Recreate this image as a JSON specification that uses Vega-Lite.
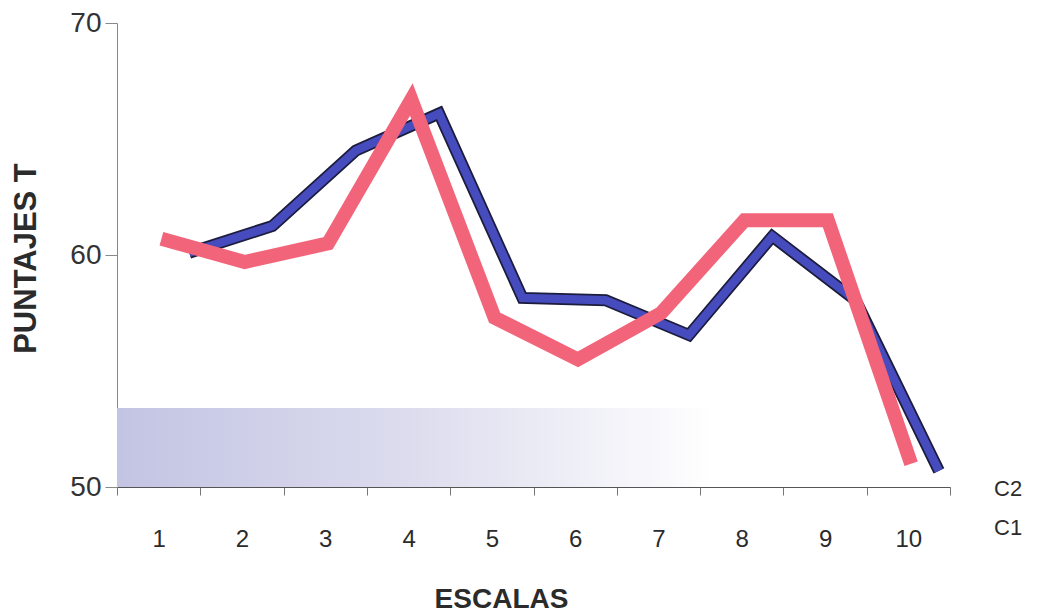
{
  "$schema": "https://vega.github.io/schema/vega-lite/v6.json",
  "autosize": {"type": "none"},
  "padding": {"left": 117, "top": 23, "right": 88, "bottom": 126},
  "width": 833,
  "height": 464,
  "background": "#ffffff",
  "config": {
    "view": {"stroke": null},
    "font": "Liberation Sans"
  },
  "datasets": {
    "puntajes": [
      {"escala": 1, "serie": "C1", "puntaje": 60.7},
      {"escala": 2, "serie": "C1", "puntaje": 59.7},
      {"escala": 3, "serie": "C1", "puntaje": 60.5},
      {"escala": 4, "serie": "C1", "puntaje": 66.7},
      {"escala": 5, "serie": "C1", "puntaje": 57.3},
      {"escala": 6, "serie": "C1", "puntaje": 55.5},
      {"escala": 7, "serie": "C1", "puntaje": 57.5},
      {"escala": 8, "serie": "C1", "puntaje": 61.5},
      {"escala": 9, "serie": "C1", "puntaje": 61.5},
      {"escala": 10, "serie": "C1", "puntaje": 51.0},
      {"escala": 1, "serie": "C2", "puntaje": 60.1},
      {"escala": 2, "serie": "C2", "puntaje": 61.25},
      {"escala": 3, "serie": "C2", "puntaje": 64.5},
      {"escala": 4, "serie": "C2", "puntaje": 66.1},
      {"escala": 5, "serie": "C2", "puntaje": 58.15},
      {"escala": 6, "serie": "C2", "puntaje": 58.05},
      {"escala": 7, "serie": "C2", "puntaje": 56.55},
      {"escala": 8, "serie": "C2", "puntaje": 60.8},
      {"escala": 9, "serie": "C2", "puntaje": 58.05},
      {"escala": 10, "serie": "C2", "puntaje": 50.7}
    ],
    "piso": [
      {"desde": 50, "hasta": 53.4}
    ]
  },
  "encoding": {
    "x": {
      "field": "escala",
      "type": "ordinal",
      "scale": {"type": "band", "paddingInner": 0, "paddingOuter": 0},
      "axis": {
        "title": "ESCALAS",
        "titleFont": "Liberation Sans",
        "titleFontSize": 28,
        "titleFontWeight": "bold",
        "titleColor": "#2b2b2b",
        "titleX": 384,
        "titleY": 120,
        "titleAlign": "center",
        "titleBaseline": "alphabetic",
        "labelAngle": 0,
        "labelFontSize": 24,
        "labelColor": "#2b2b2b",
        "labelPadding": 32,
        "tickBand": "extent",
        "tickSize": 8,
        "tickColor": "#777777",
        "domainColor": "#555555",
        "grid": false
      }
    },
    "y": {
      "field": "puntaje",
      "type": "quantitative",
      "scale": {"domain": [50, 70], "nice": false, "zero": false},
      "axis": {
        "title": "PUNTAJES T",
        "titleFont": "Liberation Sans",
        "titleFontSize": 31,
        "titleFontWeight": "bold",
        "titleColor": "#2b2b2b",
        "titleAngle": 270,
        "titleAlign": "center",
        "titleBaseline": "middle",
        "titleX": -91,
        "titleY": 235,
        "values": [50, 60, 70],
        "labelFontSize": 28,
        "labelColor": "#333333",
        "labelPadding": 4,
        "tickSize": 12,
        "tickColor": "#888888",
        "domainColor": "#888888",
        "grid": false
      }
    }
  },
  "layer": [
    {
      "data": {"name": "piso"},
      "mark": {
        "type": "rect",
        "opacity": 1,
        "fill": {
          "gradient": "linear",
          "x1": 0, "y1": 0, "x2": 1, "y2": 0,
          "stops": [
            {"offset": 0, "color": "#c3c4e3"},
            {"offset": 0.35, "color": "#dcdcee"},
            {"offset": 0.72, "color": "#ffffff"}
          ]
        }
      },
      "encoding": {
        "x": null,
        "y": {"field": "hasta", "type": "quantitative"},
        "y2": {"field": "desde"}
      }
    },
    {
      "data": {"name": "puntajes"},
      "transform": [{"filter": "datum.serie === 'C2'"}],
      "mark": {"type": "line", "color": "#1c1c3c", "strokeWidth": 12, "strokeJoin": "miter", "strokeCap": "butt"},
      "encoding": {
        "xOffset": {"field": "serie", "scale": {"domain": ["C1", "C2"], "paddingInner": 0, "paddingOuter": 1.45, "align": 0.8}}
      }
    },
    {
      "data": {"name": "puntajes"},
      "transform": [{"filter": "datum.serie === 'C2'"}],
      "mark": {"type": "line", "strokeWidth": 8.5, "strokeJoin": "miter", "strokeCap": "butt"},
      "encoding": {
        "xOffset": {"field": "serie", "scale": {"domain": ["C1", "C2"], "paddingInner": 0, "paddingOuter": 1.45, "align": 0.8}},
        "color": {
          "field": "serie",
          "type": "nominal",
          "scale": {"domain": ["C2", "C1"], "range": ["#464bbd", "#f2647a"]},
          "legend": {
            "title": null,
            "orient": "none",
            "legendX": 855,
            "legendY": 455,
            "padding": 0,
            "symbolSize": 0,
            "symbolOpacity": 0,
            "labelOffset": 0,
            "labelFontSize": 22,
            "labelColor": "#2b2b2b",
            "rowPadding": 17
          }
        }
      }
    },
    {
      "data": {"name": "puntajes"},
      "transform": [{"filter": "datum.serie === 'C1'"}],
      "mark": {"type": "line", "strokeWidth": 14, "strokeJoin": "miter", "strokeCap": "butt"},
      "encoding": {
        "xOffset": {"field": "serie", "scale": {"domain": ["C1", "C2"], "paddingInner": 0, "paddingOuter": 1.45, "align": 0.8}},
        "color": {
          "field": "serie",
          "type": "nominal",
          "scale": {"domain": ["C2", "C1"], "range": ["#464bbd", "#f2647a"]}
        }
      }
    }
  ]
}
